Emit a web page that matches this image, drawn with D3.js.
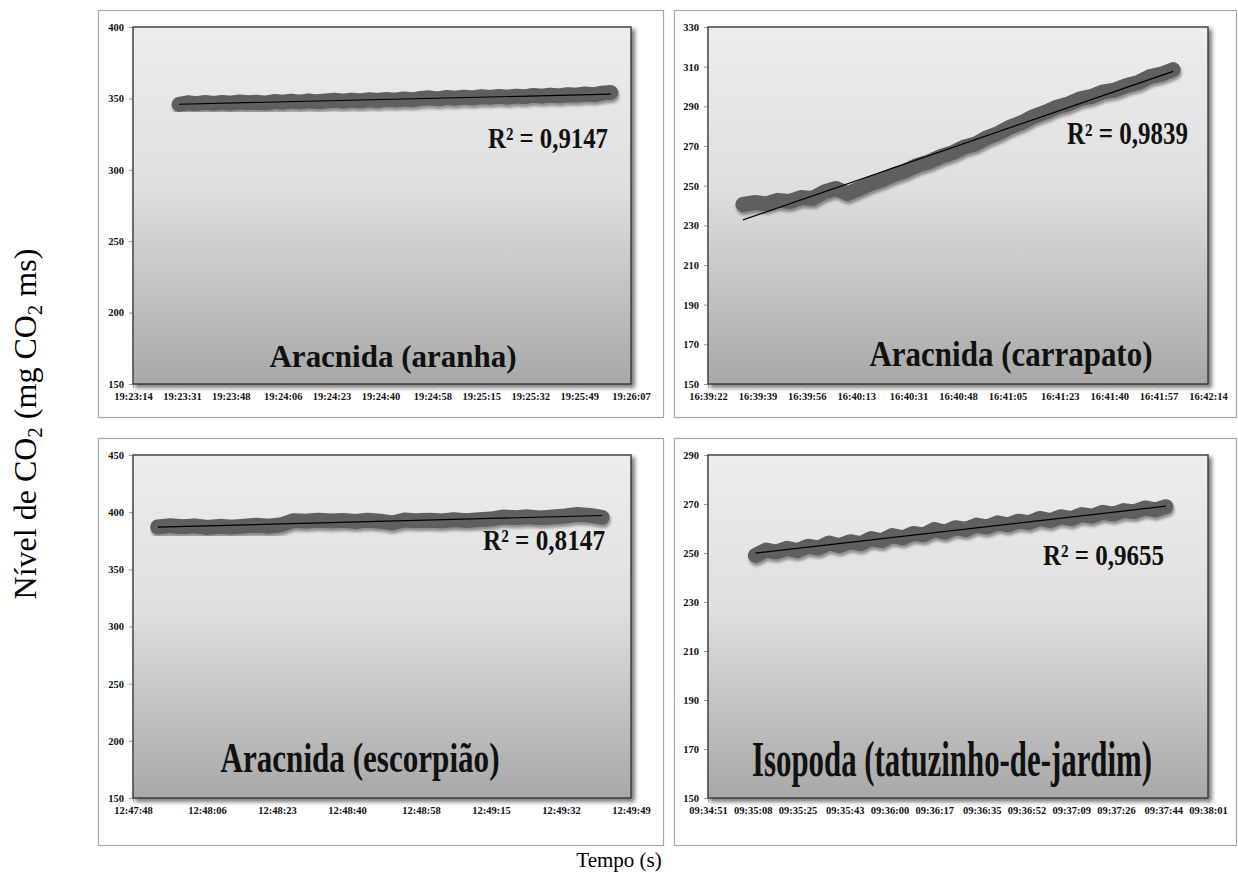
<!DOCTYPE html>
<html>
<head>
<meta charset="utf-8">
<script src="https://cdn.jsdelivr.net/npm/d3@7"></script>
<style>
  body { margin: 0; background: #fff; }
  svg { display: block; font-family: "Liberation Serif", "Times New Roman", serif; }
  .tick text { font-weight: bold; font-size: 10.5px; fill: #111; font-family: "Liberation Serif", serif; }
  .tick line { stroke: #9a9a9a; }
</style>
</head>
<body>
<div id="chart"></div>
<script>
// títulos e rótulos
const panelTitles = ["Aracnida (aranha)", "Aracnida (carrapato)", "Aracnida (escorpião)", "Isopoda (tatuzinho-de-jardim)"];
const r2Labels = ["R² = 0,9147", "R² = 0,9839", "R² = 0,8147", "R² = 0,9655"];

// rótulos do eixo x (horário)
const xLabelsAranha = ["19:23:14", "19:23:31", "19:23:48", "19:24:06", "19:24:23", "19:24:40", "19:24:58", "19:25:15", "19:25:32", "19:25:49", "19:26:07"];
const xLabelsCarrapato = ["16:39:22", "16:39:39", "16:39:56", "16:40:13", "16:40:31", "16:40:48", "16:41:05", "16:41:23", "16:41:40", "16:41:57", "16:42:14"];
const xLabelsEscorpiao = ["12:47:48", "12:48:06", "12:48:23", "12:48:40", "12:48:58", "12:49:15", "12:49:32", "12:49:49"];
const xLabelsIsopoda = ["09:34:51", "09:35:08", "09:35:25", "09:35:43", "09:36:00", "09:36:17", "09:36:35", "09:36:52", "09:37:09", "09:37:26", "09:37:44", "09:38:01"];

// marcas do eixo y
const yTicksAranha = [150, 200, 250, 300, 350, 400];
const yTicksCarrapato = [150, 170, 190, 210, 230, 250, 270, 290, 310, 330];
const yTicksEscorpiao = [150, 200, 250, 300, 350, 400, 450];
const yTicksIsopoda = [150, 170, 190, 210, 230, 250, 270, 290];

// início da série (s após o primeiro rótulo) e intervalo entre leituras (s)
const seriesStartSec = [16, 12, 6, 18];
const seriesStepSec = [3, 4, 3, 4];

// leituras de CO2
const co2Aranha = [345.8, 346.9, 346.3, 347.2, 346.5, 347.1, 346.6, 347.5, 346.9, 347.3,
  346.7, 347.8, 347.3, 348.1, 347.4, 348.3, 347.6, 348.2, 348.7, 348.0,
  348.8, 348.2, 349.1, 348.5, 349.3, 348.8, 349.6, 349.0, 349.9, 350.4,
  349.7, 350.6, 350.1, 350.9, 350.3, 351.2, 350.7, 351.4, 350.8, 351.6,
  351.1, 352.1, 351.5, 352.3, 351.7, 352.6, 352.2, 353.1, 352.5, 353.7, 354.1];
const co2Carrapato = [240.5, 241.5, 240.8, 242.6, 242.0, 244.0, 243.6, 246.8, 248.6, 246.0,
  248.5, 251.0, 253.0, 255.6, 257.5, 260.2, 262.0, 264.6, 266.5, 269.4,
  271.0, 274.2, 276.5, 279.6, 281.8, 284.9, 287.0, 289.6, 291.2, 293.8,
  295.0, 297.3, 298.2, 300.5, 302.0, 305.0, 306.2, 308.5];
const co2Escorpiao = [387.0, 388.2, 387.3, 388.0, 386.6, 387.6, 386.9, 387.8, 388.5, 387.7,
  389.0, 392.6, 392.0, 393.0, 392.2, 392.8, 391.8, 392.9, 392.1, 390.5,
  393.2, 392.4, 393.0, 392.2, 393.3, 392.6, 393.4, 394.0, 395.8, 395.1,
  395.9, 395.0, 395.8, 396.6, 398.0, 397.2, 395.5];
const co2Isopoda = [249.0, 251.2, 250.4, 251.9, 251.0, 252.8, 252.0, 254.1, 253.0, 254.6,
  253.8, 255.9, 255.0, 257.1, 256.2, 258.0, 257.4, 259.6, 258.5, 260.3,
  259.6, 261.4, 260.6, 262.3, 261.5, 263.0, 262.4, 264.1, 263.2, 264.8,
  264.0, 265.7, 265.0, 266.6, 265.9, 267.3, 266.8, 268.4, 267.6, 268.9];

(function () {
    const width = 1238;
    const height = 888;

    const toSec = s => {
        const [h, m, sec] = s.split(":").map(Number);
        return h * 3600 + m * 60 + sec;
    };

    const svg = d3.select("#chart")
        .append("svg")
        .attr("width", width)
        .attr("height", height);

    const defs = svg.append("defs");

    // fundo da área do gráfico (degradê cinza)
    const grad = defs.append("linearGradient")
        .attr("id", "plotBg")
        .attr("x1", 0).attr("y1", 0).attr("x2", 0).attr("y2", 1);
    [[0, "#ededed"], [0.45, "#dfdfdf"], [1, "#a8a8a8"]].forEach(([o, c]) =>
        grad.append("stop").attr("offset", o).attr("stop-color", c));

    // sombra da faixa de dados
    const bandShadow = defs.append("filter").attr("id", "bandShadow")
        .attr("x", "-5%").attr("y", "-60%").attr("width", "110%").attr("height", "220%");
    bandShadow.append("feGaussianBlur").attr("in", "SourceAlpha").attr("stdDeviation", 1.8).attr("result", "blur");
    bandShadow.append("feOffset").attr("in", "blur").attr("dx", 1).attr("dy", 2.5).attr("result", "off");
    bandShadow.append("feComponentTransfer").attr("in", "off").attr("result", "shadow")
        .append("feFuncA").attr("type", "linear").attr("slope", 0.4);
    const bm = bandShadow.append("feMerge");
    bm.append("feMergeNode").attr("in", "shadow");
    bm.append("feMergeNode").attr("in", "SourceGraphic");

    // sombra da área do gráfico
    const plotShadow = defs.append("filter").attr("id", "plotShadow")
        .attr("x", "-5%").attr("y", "-5%").attr("width", "110%").attr("height", "110%");
    plotShadow.append("feGaussianBlur").attr("stdDeviation", 2);

    const panels = [
        { title: panelTitles[0], r2: r2Labels[0], xLabels: xLabelsAranha, yTicks: yTicksAranha, values: co2Aranha,
          start: seriesStartSec[0], step: seriesStepSec[0],
          box: [98, 10, 663, 417], plot: [133, 27, 631, 384], titlePos: [393, 367, 32, 247], r2Pos: [488, 148, 30, 120] },
        { title: panelTitles[1], r2: r2Labels[1], xLabels: xLabelsCarrapato, yTicks: yTicksCarrapato, values: co2Carrapato,
          start: seriesStartSec[1], step: seriesStepSec[1],
          box: [674, 10, 1236, 417], plot: [708, 27, 1208, 384], titlePos: [1011, 366, 35, 283], r2Pos: [1067, 144, 31, 121] },
        { title: panelTitles[2], r2: r2Labels[2], xLabels: xLabelsEscorpiao, yTicks: yTicksEscorpiao, values: co2Escorpiao,
          start: seriesStartSec[2], step: seriesStepSec[2],
          box: [98, 438, 663, 845], plot: [133, 455, 631, 798], titlePos: [360, 772, 42, 279], r2Pos: [483, 550, 30, 122] },
        { title: panelTitles[3], r2: r2Labels[3], xLabels: xLabelsIsopoda, yTicks: yTicksIsopoda, values: co2Isopoda,
          start: seriesStartSec[3], step: seriesStepSec[3],
          box: [674, 438, 1236, 845], plot: [708, 455, 1208, 798], titlePos: [952, 776, 50, 400], r2Pos: [1043, 565, 30, 121] }
    ];

    panels.forEach(p => {
        const [bx0, by0, bx1, by1] = p.box;
        const [px0, py0, px1, py1] = p.plot;

        // moldura externa
        svg.append("rect")
            .attr("x", bx0 + 0.5).attr("y", by0 + 0.5)
            .attr("width", bx1 - bx0).attr("height", by1 - by0)
            .attr("fill", "#fff")
            .attr("stroke", "#a6a6a6")
            .attr("stroke-width", 1.2);

        const t0 = toSec(p.xLabels[0]);
        const x = d3.scaleLinear()
            .domain([t0, toSec(p.xLabels[p.xLabels.length - 1])])
            .range([px0, px1]);
        const y = d3.scaleLinear()
            .domain(d3.extent(p.yTicks))
            .range([py1, py0]);

        const g = svg.append("g");

        // sombra + fundo
        g.append("rect")
            .attr("x", px0 + 2).attr("y", py0 + 2)
            .attr("width", px1 - px0 + 2).attr("height", py1 - py0 + 2)
            .attr("fill", "#7a7a7a")
            .attr("filter", "url(#plotShadow)");
        g.append("rect")
            .attr("x", px0).attr("y", py0)
            .attr("width", px1 - px0).attr("height", py1 - py0)
            .attr("fill", "url(#plotBg)");

        // eixos
        g.append("g")
            .attr("transform", `translate(${px0},0)`)
            .call(d3.axisLeft(y).tickValues(p.yTicks).tickSize(4).tickPadding(5))
            .call(a => a.select(".domain").remove());
        g.append("g")
            .attr("transform", `translate(0,${py1})`)
            .call(d3.axisBottom(x)
                .tickValues(p.xLabels.map(toSec))
                .tickFormat((d, i) => p.xLabels[i])
                .tickSize(4).tickPadding(5))
            .call(a => a.select(".domain").remove());

        // faixa de leituras
        const pts = p.values.map((v, i) => [t0 + p.start + i * p.step, v]);
        const line = d3.line().x(d => x(d[0])).y(d => y(d[1]));
        g.append("path")
            .datum(pts)
            .attr("d", line)
            .attr("fill", "none")
            .attr("stroke", "#5e5e5e")
            .attr("stroke-width", 15)
            .attr("stroke-linejoin", "round")
            .attr("stroke-linecap", "round")
            .attr("filter", "url(#bandShadow)");

        // linha de tendência (mínimos quadrados)
        const mx = d3.mean(pts, d => d[0]);
        const my = d3.mean(pts, d => d[1]);
        const slope = d3.sum(pts, d => (d[0] - mx) * (d[1] - my)) / d3.sum(pts, d => (d[0] - mx) ** 2);
        const xs = d3.extent(pts, d => d[0]);
        g.append("line")
            .attr("x1", x(xs[0])).attr("y1", y(my + slope * (xs[0] - mx)))
            .attr("x2", x(xs[1])).attr("y2", y(my + slope * (xs[1] - mx)))
            .attr("stroke", "#000")
            .attr("stroke-width", 1.2);

        // borda da área do gráfico
        g.append("rect")
            .attr("x", px0).attr("y", py0)
            .attr("width", px1 - px0).attr("height", py1 - py0)
            .attr("fill", "none")
            .attr("stroke", "#3a3a3a")
            .attr("stroke-width", 1.4);

        // título do painel
        const [tx, ty, ts, tl] = p.titlePos;
        g.append("text")
            .attr("x", tx - tl / 2).attr("y", ty)
            .attr("font-size", ts)
            .attr("font-weight", "bold")
            .attr("fill", "#111")
            .attr("textLength", tl)
            .attr("lengthAdjust", "spacingAndGlyphs")
            .text(p.title);

        // R²
        const [rx, ry, rs, rl] = p.r2Pos;
        g.append("text")
            .attr("x", rx).attr("y", ry)
            .attr("font-size", rs)
            .attr("font-weight", "bold")
            .attr("fill", "#111")
            .attr("textLength", rl)
            .attr("lengthAdjust", "spacingAndGlyphs")
            .text(p.r2);
    });

    // título do eixo y
    const yTitle = svg.append("text")
        .attr("transform", "translate(36,424) rotate(-90)")
        .attr("text-anchor", "middle")
        .attr("font-size", 32)
        .attr("fill", "#000");
    yTitle.append("tspan").text("Nível de CO");
    yTitle.append("tspan").attr("font-size", 21).attr("dy", 6).text("2");
    yTitle.append("tspan").attr("dy", -6).text(" (mg CO");
    yTitle.append("tspan").attr("font-size", 21).attr("dy", 6).text("2");
    yTitle.append("tspan").attr("dy", -6).text(" ms)");

    // título do eixo x
    svg.append("text")
        .attr("x", 619).attr("y", 867)
        .attr("text-anchor", "middle")
        .attr("font-size", 21)
        .attr("fill", "#000")
        .text("Tempo (s)");
})();
</script>
</body>
</html>
